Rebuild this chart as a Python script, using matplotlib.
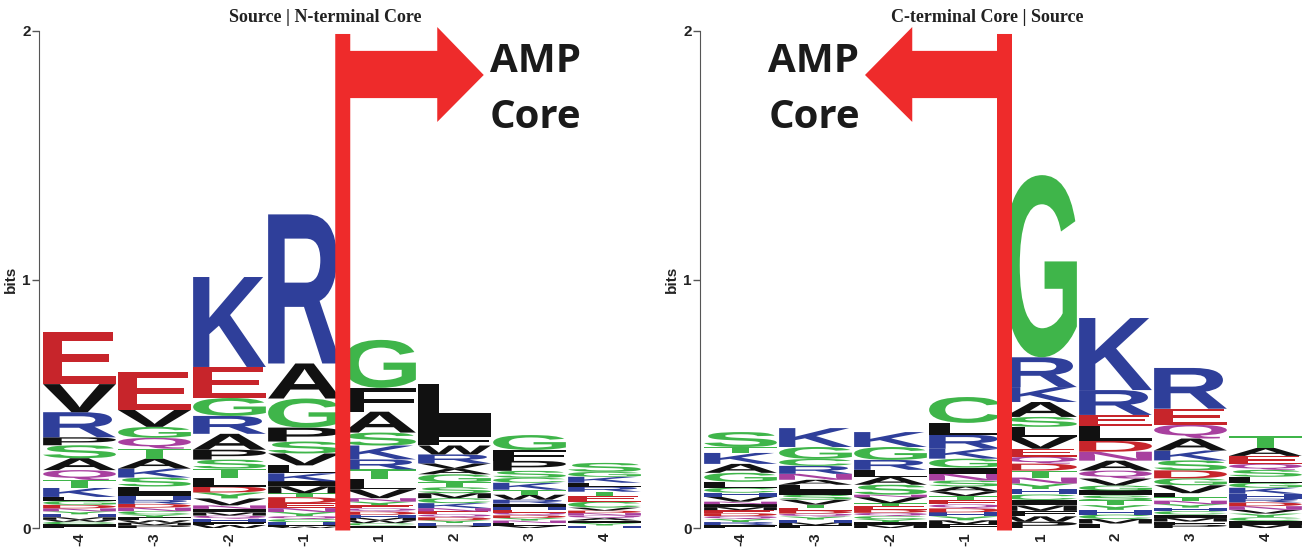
import matplotlib
matplotlib.use('Agg')
import matplotlib.pyplot as plt
from matplotlib.textpath import TextPath
from matplotlib.patches import PathPatch, Polygon
from matplotlib.font_manager import FontProperties
from matplotlib.transforms import Affine2D

positions = ['-4', '-3', '-2', '-1', '1', '2', '3', '4']

# each column: residues from top of stack to bottom, with their heights in bits
n_residues = ['EVRPSAQTKLGDNYHMWCIF',
              'EVGQTAKSLIHRDNCYFWMP',
              'KEGRAPSTLDYVNIMQHFW',
              'RAGPSVLKIMTDENYQCHFW',
              'GFASKRTLVNYEQDHMWCI',
              'LIFWRVAGTSMCKNEQDYHP',
              'GFPSCKTWRIHEQDYNLV',
              'SGKLRTECVDNQAIYH']
n_bits = [[.209, .113, .101, .032, .052, .048, .040, .032, .036, .016, .016, .014, .012, .012, .012, .010, .008, .010, .008, .007],
          [.153, .068, .044, .044, .040, .040, .036, .036, .020, .018, .016, .016, .015, .014, .013, .012, .012, .010, .010, .011],
          [.362, .125, .072, .072, .064, .040, .036, .036, .036, .024, .024, .028, .014, .014, .013, .013, .013, .012, .012],
          [.600, .141, .117, .056, .048, .048, .032, .032, .020, .028, .016, .024, .020, .016, .016, .012, .012, .010, .008, .006],
          [.193, .096, .084, .052, .056, .040, .040, .040, .036, .014, .014, .013, .013, .013, .012, .011, .010, .010, .010],
          [.140, .068, .040, .036, .036, .022, .022, .032, .020, .024, .020, .020, .020, .013, .012, .012, .012, .011, .010, .010],
          [.060, .044, .040, .028, .020, .028, .020, .020, .016, .012, .012, .012, .011, .011, .010, .010, .010, .010],
          [.036, .020, .024, .016, .020, .016, .024, .024, .012, .010, .010, .010, .010, .010, .010, .010]]

c_residues = ['STKAGLCHVNIMEDQYRF',
              'KGCRNALISVTEDQYHMF',
              'KGRLASNVTEDQCYIM',
              'CLRKGINSAVTEQDHYMF',
              'GRKASLVEQDTNYHCIMFWP',
              'KRELDNAQVGISTYHCMF',
              'REQAKSDGVLTNYHCIMFP',
              'TAEQSLGKHRDNVYCIM']
c_bits = [[.060, .024, .044, .036, .036, .024, .020, .016, .020, .010, .012, .012, .012, .012, .012, .012, .012, .012],
          [.076, .048, .028, .032, .024, .020, .020, .020, .020, .020, .012, .012, .012, .012, .012, .012, .011, .011],
          [.060, .052, .040, .028, .032, .040, .010, .024, .013, .013, .013, .013, .012, .012, .012, .012],
          [.104, .048, .056, .040, .036, .024, .028, .024, .020, .018, .018, .016, .016, .016, .016, .016, .016, .015],
          [.733, .120, .060, .060, .040, .040, .048, .032, .028, .028, .028, .024, .022, .022, .022, .022, .022, .022, .022, .025],
          [.290, .100, .044, .060, .044, .036, .040, .032, .028, .020, .020, .020, .019, .019, .019, .018, .018, .018],
          [.164, .064, .056, .048, .040, .040, .032, .028, .032, .016, .014, .014, .014, .014, .014, .014, .014, .013, .013],
          [.048, .032, .032, .024, .028, .024, .020, .024, .020, .015, .015, .015, .015, .015, .015, .014, .014]]

titles = ['Source | N-terminal Core', 'C-terminal Core | Source']

colors = {}
for aa in 'GSTYC':
    colors[aa] = '#3fb54a'
for aa in 'QN':
    colors[aa] = '#a8409f'
for aa in 'KRH':
    colors[aa] = '#2f3f9a'
for aa in 'DE':
    colors[aa] = '#c7252b'
for aa in 'AVLIPWFM':
    colors[aa] = '#111111'

letter_font = FontProperties(family='Liberation Sans', weight='bold')
red = '#ee2b2b'


def draw_letter(ax, ch, x, y, w, h):
    tp = TextPath((0, 0), ch, size=1, prop=letter_font)
    ext = tp.get_extents()
    tr = (Affine2D().translate(-ext.x0, -ext.y0)
          .scale(w / ext.width, h / ext.height)
          .translate(x - w / 2, y))
    ax.add_patch(PathPatch(tr.transform_path(tp), facecolor=colors[ch],
                           edgecolor='none', lw=0))


def draw_logo(ax, residues, bits):
    for i, (letters, hs) in enumerate(zip(residues, bits)):
        y = 0
        for ch, h in reversed(list(zip(letters, hs))):
            draw_letter(ax, ch, i, y, 0.97, h)
            y += h


fig = plt.figure(figsize=(13.03, 5.48), dpi=100)
ax1 = fig.add_axes([42 / 1303, 20 / 548, 600 / 1303, 497 / 548])
ax2 = fig.add_axes([703 / 1303, 20 / 548, 600 / 1303, 497 / 548])

for ax, res, bits in [(ax1, n_residues, n_bits), (ax2, c_residues, c_bits)]:
    draw_logo(ax, res, bits)
    ax.set_xlim(-0.5, 7.5)
    ax.set_ylim(0, 2)
    for s in ['top', 'right', 'bottom']:
        ax.spines[s].set_visible(False)
    ax.spines['left'].set_position(('outward', 2))
    ax.spines['left'].set_color('#555555')
    ax.set_xticks(range(8))
    ax.set_xticklabels(positions, rotation=90, fontsize=11, fontweight='bold',
                       family='Liberation Sans', color='#222222')
    ax.tick_params(axis='x', length=0, pad=3)
    ax.set_yticks([0, 1, 2])
    ax.set_yticklabels(['0', '1', '2'], fontsize=11, fontweight='bold',
                       family='Liberation Sans', color='#222222')
    ax.tick_params(axis='y', length=5, width=1, color='#555555', pad=1)
    ax.set_ylabel('bits', fontsize=11, fontweight='bold', color='#222222',
                  family='Liberation Sans', labelpad=3)

# red arrows marking the core boundary
left_arrow = [(3.41, -0.01), (3.61, -0.01), (3.61, 1.73), (4.77, 1.73),
              (4.77, 1.634), (5.39, 1.823), (4.77, 2.016), (4.77, 1.92),
              (3.61, 1.92), (3.61, 1.988), (3.41, 1.988)]
right_arrow = [(3.62, -0.01), (3.42, -0.01), (3.42, 1.73), (2.29, 1.73),
               (2.29, 1.634), (1.66, 1.823), (2.29, 2.016), (2.29, 1.92),
               (3.42, 1.92), (3.42, 1.988), (3.62, 1.988)]
ax1.add_patch(Polygon(left_arrow, closed=True, facecolor=red, edgecolor='none',
                      clip_on=False, zorder=5))
ax2.add_patch(Polygon(right_arrow, closed=True, facecolor=red, edgecolor='none',
                      clip_on=False, zorder=5))

for ax, x in [(ax1, 5.47), (ax2, 0.37)]:
    ax.text(x, 1.835, 'AMP', family='Open Sans', fontweight='bold', fontsize=29,
            color='#1a1a1a', ha='left', va='baseline', zorder=6)
    ax.text(x, 1.61, 'Core', family='Open Sans', fontweight='bold', fontsize=29,
            color='#1a1a1a', ha='left', va='baseline', zorder=6)

fig.text(325 / 1303, 1 - 18 / 548, titles[0], family='Liberation Serif',
         fontweight='bold', fontsize=13, ha='center', va='center', color='#222222')
fig.text(987 / 1303, 1 - 18 / 548, titles[1], family='Liberation Serif',
         fontweight='bold', fontsize=13, ha='center', va='center', color='#222222')

fig.savefig('out.png', dpi=100)
